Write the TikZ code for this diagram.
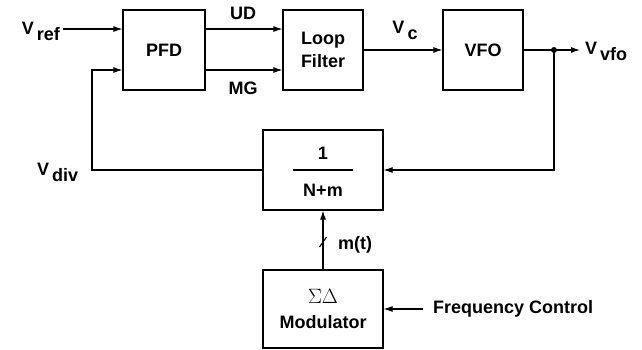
\documentclass[tikz,border=0pt]{standalone}
\usepackage{fontspec}
\setmainfont{Liberation Sans}
\usetikzlibrary{arrows.meta}

\tikzset{
	blk/.style={draw, line width=1.1pt, minimum width=80pt, minimum height=80pt, align=center},
	wire/.style={line width=1.1pt},
	sig/.style={wire, -{Latex[length=9pt,width=6pt]}},
	lbl/.style={inner sep=0pt},
}
\newcommand{\sgn}[2]{V\,\raisebox{-6pt}{#2}}

\begin{document}
\begin{tikzpicture}[x=1pt, y=-1pt, font=\fontsize{18}{23}\selectfont\bfseries]
	\useasboundingbox (0,0) rectangle (642,350);
	\node [blk, minimum width=82pt] (pfd) at (164,50) {PFD};
	\node [blk] (lf) at (323,50) {Loop\\Filter};
	\node [blk] (vfo) at (483,50) {VFO};
	\node [blk, minimum width=120pt] (div) at (323,170) {};
	\node [blk, minimum width=120pt, minimum height=78pt, font=\fontsize{18}{25}\selectfont\bfseries] (sd) at (323,309) {{\fontsize{20}{25}\selectfont$\Sigma\Delta$}\\Modulator};
	\node [lbl] (one) at (323,153) {1};
	\node [lbl] (nm) at (323,190) {N+m};
	\draw [wire] ([xshift=-30pt]div.center) -- ([xshift=30pt]div.center);
	\coordinate (vrefin) at (63,29);
	\coordinate (tap) at (554,50);
	\coordinate (vout) at (580,50);
	\coordinate (fbl) at (92,170);
	\coordinate (fc) at (423,309);
	\draw [sig] (vrefin) -- (vrefin -| pfd.west);
	\draw [sig] ([yshift=21pt]pfd.east) -- ([yshift=21pt]lf.west);
	\draw [sig] ([yshift=-20pt]pfd.east) -- ([yshift=-20pt]lf.west);
	\draw [sig] (lf.east) -- (vfo.west);
	\draw [wire] (vfo.east) -- (tap);
	\draw [sig] (tap) -- (vout);
	\fill (tap) circle (3pt);
	\draw [sig] (tap) -- (tap |- div.east) -- (div.east);
	\draw [sig] (div.west) -- (fbl) -- (fbl |- 0,70) -- ([yshift=-20pt]pfd.west);
	\draw [sig] (sd.north) -- (div.south);
	\draw [wire] (319.5,247) -- (326.5,237);
	\draw [sig] (fc) -- (sd.east);
	\node [lbl, anchor=east] (vref) at (60,31) {\sgn{V}{ref}};
	\node [lbl] (ud) at (243,13) {UD};
	\node [lbl] (mg) at (243,88) {MG};
	\node [lbl] (vc) at (405,30) {\sgn{V}{c}};
	\node [lbl, anchor=west] (vvfo) at (585,51) {\sgn{V}{vfo}};
	\node [lbl, anchor=west] (vdiv) at (37,172) {\sgn{V}{div}};
	\node [lbl, anchor=west] (mt) at (338,245) {m(t)};
	\node [lbl, anchor=west] (fctl) at (433,309) {Frequency Control};
\end{tikzpicture}
\end{document}
